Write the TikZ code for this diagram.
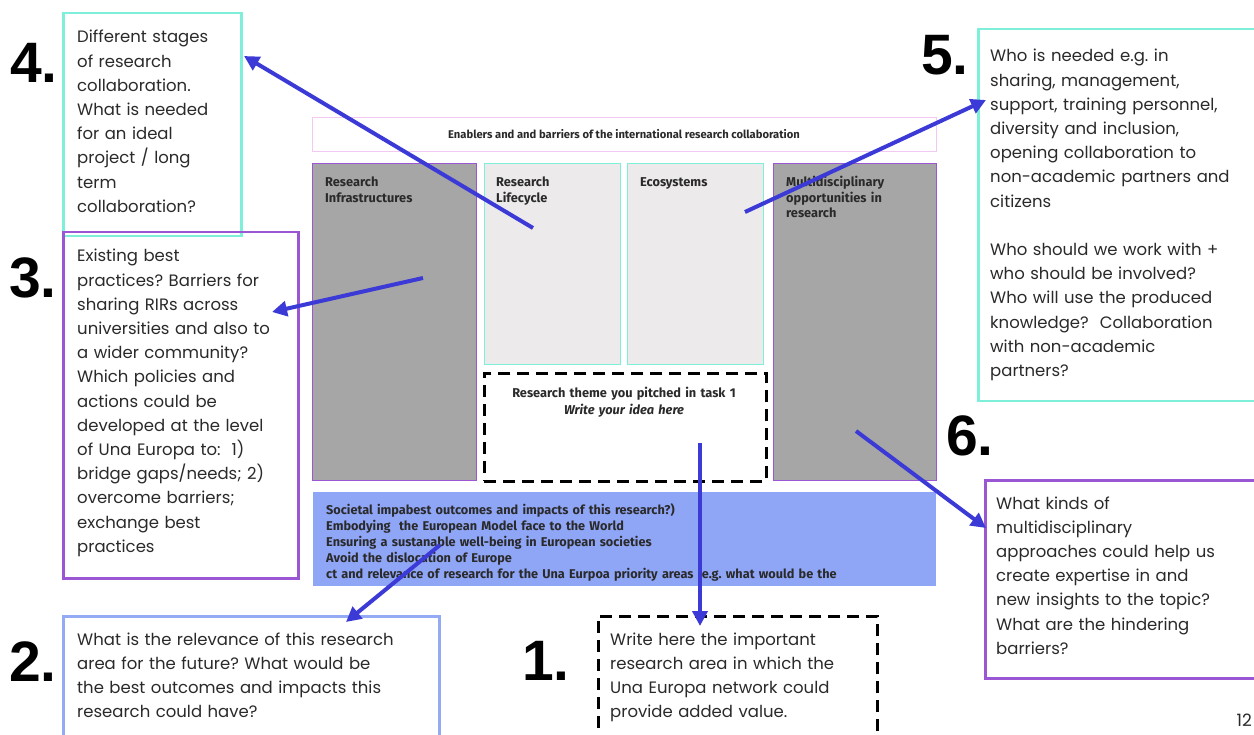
\documentclass[tikz,border=0pt]{standalone}
\usepackage{fontspec}
\setmainfont{Poppins}
\newfontfamily\numfont{Liberation Sans}
\newfontfamily\smallfont{Fira Sans}
\usetikzlibrary{arrows.meta}
\definecolor{arrowblue}{HTML}{3C3AD6}
\definecolor{cyanb}{HTML}{7EEFD9}
\definecolor{purpleb}{HTML}{9B57D3}
\definecolor{lblueb}{HTML}{94AAF5}
\definecolor{bluefill}{HTML}{8FA5F6}
\definecolor{grayfill}{HTML}{A6A6A6}
\definecolor{lgrayfill}{HTML}{ECEAEA}
\definecolor{pinkb}{HTML}{F3C8F3}
\definecolor{txt}{HTML}{2A2A2A}
\frenchspacing
\begin{document}
\begin{tikzpicture}[x=1pt,y=-1pt,
  qbox/.style={draw, line width=2.5pt, anchor=north west, inner sep=0pt},
  qtext/.style={anchor=base west, inner sep=0pt, align=left, text=txt, text width=420pt,
    font=\fontsize{16.5}{24.2}\selectfont},
  numlbl/.style={anchor=north west, inner sep=0pt, font=\numfont\bfseries\fontsize{57}{57}\selectfont},
  panel/.style={draw, line width=1.2pt, anchor=north west, inner sep=0pt},
  ptext/.style={anchor=base west, inner sep=0pt, align=left, text=txt, text width=200pt,
    font=\smallfont\bfseries\fontsize{12.8}{16}\selectfont},
  dbox/.style={draw=black, line width=2.6pt, dash pattern=on 12pt off 7pt, anchor=north west, inner sep=0pt},
  arr/.style={draw=arrowblue, line width=4pt, -{Triangle[length=15pt,width=15pt]}}
]
\useasboundingbox (0,0) rectangle (1254,735);
\clip (0,0) rectangle (1254,735);
\fill[white] (0,0) rectangle (1254,735);

% ---- central panels ----
\node[panel, draw=pinkb, minimum width=624pt, minimum height=34pt] (title) at (312,117) {};
\node[anchor=base, inner sep=0pt, text=txt, font=\smallfont\bfseries\fontsize{11.2}{12}\selectfont] (titletxt) at (624,138.5) {Enablers and and barriers of the international research collaboration};

\node[panel, draw=purpleb, fill=grayfill, minimum width=164pt, minimum height=317pt] (ri) at (312,163) {};
\node[ptext] (ritxt) at (325,187) {Research\\Infrastructures};

\node[panel, draw=cyanb, fill=lgrayfill, minimum width=136pt, minimum height=201pt] (rl) at (484,163) {};
\node[ptext] (rltxt) at (496,187) {Research\\Lifecycle};

\node[panel, draw=cyanb, fill=lgrayfill, minimum width=136pt, minimum height=201pt] (eco) at (627,163) {};
\node[ptext] (ecotxt) at (640,187) {Ecosystems};

\node[panel, draw=purpleb, fill=grayfill, minimum width=163pt, minimum height=317pt] (md) at (773,163) {};
\node[ptext, font=\smallfont\bfseries\fontsize{12.8}{15.5}\selectfont] (mdtxt) at (786,187) {Multidisciplinary\\opportunities in\\research};

\node[dbox, minimum width=282pt, minimum height=108pt] (theme) at (483,372) {};
\node[anchor=base, inner sep=0pt, align=center, text=txt, text width=270pt, font=\smallfont\bfseries\fontsize{12.8}{17}\selectfont] (themetxt) at (624,397.5) {Research theme you pitched in task 1\\\itshape Write your idea here};

\node[panel, draw=bluefill, fill=bluefill, minimum width=622pt, minimum height=93pt] (soc) at (313,492) {};
\node[ptext, text width=600pt, font=\smallfont\bfseries\fontsize{12.7}{16.2}\selectfont] (soctxt) at (326,514) {Societal impabest outcomes and impacts of this research?)\\
Embodying\ \ the European Model face to the World\\
Ensuring a sustanable well-being in European societies\\
Avoid the dislocation of Europe\\
ct and relevance of research for the Una Eurpoa priority areas (e.g. what would be the};

% ---- question boxes ----
\node[qbox, draw=cyanb, minimum width=178pt, minimum height=223pt] (q4) at (62,12) {};
\node[qtext] (q4txt) at (77,43) {Different stages\\of research\\collaboration.\\What is needed\\for an ideal\\project / long\\term\\collaboration?};
\node[numlbl] (n4) at (10,43) {4.};

\node[qbox, draw=purpleb, minimum width=235pt, minimum height=346pt] (q3) at (62,231) {};
\node[qtext] (q3txt) at (77,262) {Existing best\\practices? Barriers for\\sharing RIRs across\\universities and also to\\a wider community?\\Which policies and\\actions could be\\developed at the level\\of Una Europa to:\ \ 1)\\bridge gaps/needs; 2)\\overcome barriers;\\exchange best\\practices};
\node[numlbl] (n3) at (9,258) {3.};

\node[qbox, draw=lblueb, minimum width=376pt, minimum height=140pt] (q2) at (62,615) {};
\node[qtext] (q2txt) at (77,645) {What is the relevance of this research\\area for the future? What would be\\the best outcomes and impacts this\\research could have?};
\node[numlbl] (n2) at (9,641) {2.};

\node[dbox, minimum width=279pt, minimum height=140pt] (q1) at (597,615) {};
\node[qtext] (q1txt) at (610,645) {Write here the important\\research area in which the\\Una Europa network could\\provide added value.};
\node[numlbl] (n1) at (522,641) {1.};

\node[qbox, draw=cyanb, minimum width=290pt, minimum height=372pt] (q5) at (977,28) {};
\node[qtext] (q5txt) at (990,62) {Who is needed e.g. in\\sharing, management,\\support, training personnel,\\diversity and inclusion,\\opening collaboration to\\non-academic partners and\\citizens\\[24.2pt]Who should we work with +\\who should be involved?\\Who will use the produced\\knowledge?\ \ Collaboration\\with non-academic\\partners?};
\node[numlbl] (n5) at (921,35) {5.};

\node[numlbl] (n6) at (946,415) {6.};
\node[qbox, draw=purpleb, minimum width=290pt, minimum height=198pt] (q6) at (984,479) {};
\node[qtext] (q6txt) at (996,509) {What kinds of\\multidisciplinary\\approaches could help us\\create expertise in and\\new insights to the topic?\\What are the hindering\\barriers?};

\node[anchor=east, inner sep=0pt, text=txt, font=\fontsize{17}{20}\selectfont] (pg) at (1252,720) {12};

% ---- arrows ----
\coordinate (s4) at (533,228);
\coordinate (e4) at (244,56);
\coordinate (s3) at (423,278);
\coordinate (e3) at (272,312);
\coordinate (s5) at (745,212);
\coordinate (e5) at (986,100);
\coordinate (s6) at (856,431);
\coordinate (e6) at (986,528);
\coordinate (s2) at (440,545);
\coordinate (e2) at (346,622);
\coordinate (s1) at (700,443);
\coordinate (e1) at (700,626);
\draw[arr] (s4) -- (e4);
\draw[arr] (s3) -- (e3);
\draw[arr] (s5) -- (e5);
\draw[arr] (s6) -- (e6);
\draw[arr] (s2) -- (e2);
\draw[arr] (s1) -- (e1);
\end{tikzpicture}
\end{document}
